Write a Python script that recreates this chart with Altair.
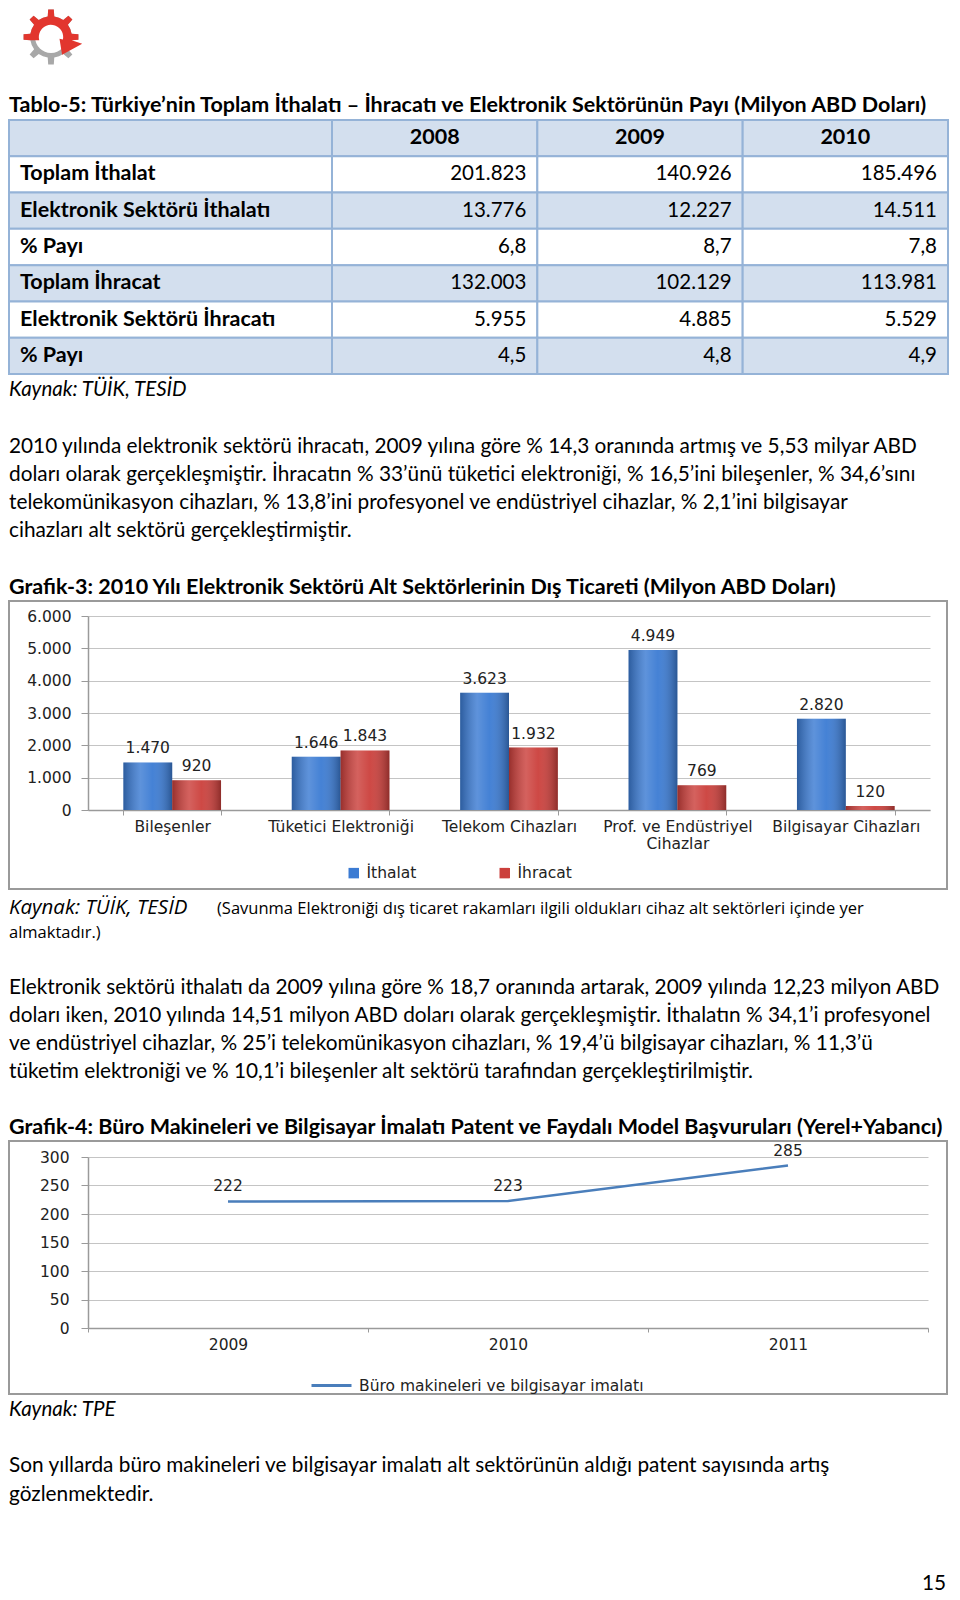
import math
import altair as alt
import pandas as pd

# ---------------- data ----------------
table_title = "Tablo-5: Türkiye’nin Toplam İthalatı – İhracatı ve Elektronik Sektörünün Payı (Milyon ABD Doları)"
table_years = ["2008", "2009", "2010"]
row_labels = ["Toplam İthalat", "Elektronik Sektörü İthalatı", "%  Payı",
              "Toplam İhracat", "Elektronik Sektörü İhracatı", "%  Payı"]
v2008 = ["201.823", "13.776", "6,8", "132.003", "5.955", "4,5"]
v2009 = ["140.926", "12.227", "8,7", "102.129", "4.885", "4,8"]
v2010 = ["185.496", "14.511", "7,8", "113.981", "5.529", "4,9"]
source1 = "Kaynak: TÜİK, TESİD"

para1 = [
    "2010 yılında elektronik sektörü ihracatı, 2009 yılına göre % 14,3 oranında artmış ve 5,53 milyar ABD",
    "doları olarak gerçekleşmiştir. İhracatın % 33’ünü tüketici elektroniği, % 16,5’ini bileşenler, % 34,6’sını",
    "telekomünikasyon cihazları, % 13,8’ini profesyonel ve endüstriyel cihazlar, % 2,1’ini bilgisayar",
    "cihazları alt sektörü gerçekleştirmiştir.",
]
chart3_title = "Grafik-3: 2010 Yılı Elektronik Sektörü Alt Sektörlerinin Dış Ticareti (Milyon ABD Doları)"
sectors = ["Bileşenler", "Tüketici Elektroniği", "Telekom Cihazları",
           "Prof. ve Endüstriyel Cihazlar", "Bilgisayar Cihazları"]
ithalat = [1470, 1646, 3623, 4949, 2820]
ihracat = [920, 1843, 1932, 769, 120]
series3 = ["İthalat", "İhracat"]

source2a = "Kaynak: TÜİK, TESİD"
source2b = "(Savunma Elektroniği dış ticaret rakamları ilgili oldukları cihaz alt sektörleri içinde yer"
source2c = "almaktadır.)"
para2 = [
    "Elektronik sektörü ithalatı da 2009 yılına göre % 18,7 oranında artarak, 2009 yılında 12,23 milyon ABD",
    "doları iken, 2010 yılında 14,51 milyon ABD doları olarak gerçekleşmiştir. İthalatın % 34,1’i profesyonel",
    "ve endüstriyel cihazlar, % 25’i telekomünikasyon cihazları, % 19,4’ü bilgisayar cihazları, % 11,3’ü",
    "tüketim elektroniği ve % 10,1’i bileşenler alt sektörü tarafından gerçekleştirilmiştir.",
]
chart4_title = "Grafik-4: Büro Makineleri ve Bilgisayar İmalatı Patent ve Faydalı Model Başvuruları (Yerel+Yabancı)"
patent_years = ["2009", "2010", "2011"]
patents = [222, 223, 285]
series4 = "Büro makineleri ve bilgisayar imalatı"
source3 = "Kaynak: TPE"
para3 = [
    "Son yıllarda büro makineleri ve bilgisayar imalatı alt sektörünün aldığı patent sayısında artış",
    "gözlenmektedir.",
]
page_no = "15"

# ---------------- styles ----------------
FONT = "Lato"
CFONT = "DejaVu Sans"
BODY = 20.8
TITLE = 21.5
CSIZE = 15.5
BLUE_LIGHT = "#D3DFEE"
BORDER = "#95B3D7"
BAR_BLUE = "#3B7BD3"
BAR_RED = "#CB3F3B"
LINE_BLUE = "#4A7EBB"
GRID = "#C4C4C4"
AXIS = "#9A9A9A"
BOX = "#9A9A9A"

# all panels share the chart-3 plot origin; text columns start left of it
L = -79      # left text edge
R = 860      # right edge of page content
ONE = pd.DataFrame({"k": [0]})


def T(text, x, y, size=BODY, bold=False, italic=False, align="left", baseline="middle", font=FONT):
    return alt.Chart(ONE).mark_text(
        text=text, align=align, baseline=baseline, font=font, fontSize=size,
        fontWeight="bold" if bold else "normal",
        fontStyle="italic" if italic else "normal", color="black",
    ).encode(x=alt.value(x), y=alt.value(y))


def frame(h):
    return alt.Chart(ONE).mark_rect(opacity=0).encode(
        x=alt.value(-80), x2=alt.value(R), y=alt.value(0), y2=alt.value(h))


def box(y0, y1):
    return alt.Chart(ONE).mark_rect(filled=False, stroke=BOX, strokeWidth=2).encode(
        x=alt.value(-79), x2=alt.value(R - 1), y=alt.value(y0), y2=alt.value(y1))


# ---------------- logo (decoration) ----------------
def gear_pts(r_out, r_in, n, a_lo, a_hi):
    pts = []
    d = 2 * math.pi / n
    for i in range(-n, 2 * n):
        c = d * i
        for off, r in [(-0.5, r_in), (-0.2, r_in), (-0.13, r_out), (0.13, r_out), (0.2, r_in)]:
            a = c + off * d
            if a_lo <= a <= a_hi:
                pts.append((r * math.cos(a), r * math.sin(a)))
    return pts


def to_path(pts):
    return "M" + " L".join(f"{x:.3f},{y:.3f}" for x, y in pts) + " Z"


gray_path = to_path(gear_pts(0.95, 0.72, 8, 0, 2 * math.pi - 1e-6))
a0, a1 = math.radians(165), math.radians(372)
red_pts = gear_pts(0.95, 0.72, 8, a0, a1)
red_pts.append((1.1 * math.cos(a1), 1.1 * math.sin(a1)))
ta = math.radians(418)
red_pts.append((0.72 * math.cos(ta), 0.72 * math.sin(ta)))
red_pts.append((0.3 * math.cos(a1), 0.3 * math.sin(a1)))
for k in range(21):
    a = a1 - (a1 - a0) * k / 20
    red_pts.append((0.42 * math.cos(a), 0.42 * math.sin(a)))
red_path = to_path(red_pts)

LX, LY, LS = -37, 29, 58
logo = alt.layer(
    alt.Chart(ONE).mark_point(shape=gray_path, filled=True, fill="#A8A8A8", strokeWidth=0,
                              size=LS * LS, opacity=1).encode(x=alt.value(LX), y=alt.value(LY)),
    alt.Chart(ONE).mark_point(shape="circle", filled=True, fill="white", strokeWidth=0,
                              size=(0.55 * LS) ** 2, opacity=1).encode(x=alt.value(LX), y=alt.value(LY)),
    alt.Chart(ONE).mark_point(shape=red_path, filled=True, fill="#E2362E", strokeWidth=0,
                              size=LS * LS, opacity=1).encode(x=alt.value(LX), y=alt.value(LY)),
)

# ---------------- table ----------------
row_ids = list(range(7))
COL1 = 244
Y_ROW = alt.Y("row:O", scale=alt.Scale(domain=row_ids, range=[112, 366], paddingInner=0, paddingOuter=0),
              axis=None)
X_SCALE = alt.Scale(domain=table_years, range=[COL1, R], paddingInner=0, paddingOuter=0)
SHADE = alt.Scale(domain=["a", "b"], range=[BLUE_LIGHT, "white"])

tbl_rows = pd.DataFrame({"row": row_ids, "label": [""] + row_labels})
tbl_all = pd.DataFrame([{"row": r, "year": y} for r in row_ids for y in table_years])
tbl_cells = pd.DataFrame([{"row": i + 1, "year": y, "val": v}
                          for y, col in zip(table_years, [v2008, v2009, v2010])
                          for i, v in enumerate(col)])
tbl_head = pd.DataFrame({"row": [0] * 3, "year": table_years})

shade_calc = "datum.row % 2 == 0 ? 'a' : 'b'"
tbl_label_rects = alt.Chart(tbl_rows).transform_calculate(shade=shade_calc).mark_rect(
    stroke=BORDER, strokeWidth=2).encode(
    x=alt.value(L), x2=alt.value(COL1), y=Y_ROW, fill=alt.Fill("shade:N", scale=SHADE, legend=None))
tbl_val_rects = alt.Chart(tbl_all).transform_calculate(shade=shade_calc).mark_rect(
    stroke=BORDER, strokeWidth=2).encode(
    x=alt.X("year:N", scale=X_SCALE, axis=None), y=Y_ROW,
    fill=alt.Fill("shade:N", scale=SHADE, legend=None))
tbl_label_text = alt.Chart(tbl_rows).mark_text(
    align="left", baseline="middle", font=FONT, fontSize=21.5, fontWeight="bold", color="black").encode(
    x=alt.value(L + 11), y=Y_ROW, text="label:N")
tbl_val_text = alt.Chart(tbl_cells).mark_text(
    align="right", baseline="middle", dx=-11, font=FONT, fontSize=20.5, color="black").encode(
    x=alt.X("year:N", scale=X_SCALE, bandPosition=1, axis=None), y=Y_ROW, text="val:N")
tbl_head_text = alt.Chart(tbl_head).mark_text(
    align="center", baseline="middle", font=FONT, fontSize=21.5, fontWeight="bold", color="black").encode(
    x=alt.X("year:N", scale=X_SCALE, axis=None), y=Y_ROW, text="year:N")

panelA_layers = [frame(592), logo,
                 T(table_title, L, 98, size=TITLE, bold=True),
                 tbl_label_rects, tbl_val_rects, tbl_label_text, tbl_val_text, tbl_head_text,
                 T(source1, L, 382, size=20.5, italic=True)]
for i, line in enumerate(para1):
    panelA_layers.append(T(line, L, 439 + 28 * i))
panelA_layers.append(T(chart3_title, L, 580, size=TITLE, bold=True))
panelA = alt.layer(*panelA_layers).properties(width=842, height=592)

# ---------------- chart 3 ----------------
df3 = pd.DataFrame(
    [{"cat": c, "seri": series3[0], "val": v} for c, v in zip(sectors, ithalat)] +
    [{"cat": c, "seri": series3[1], "val": v} for c, v in zip(sectors, ihracat)])

fmt_dot = "replace(format(datum.value, ','), ',', '.')"
base3 = alt.Chart(df3).transform_calculate(
    lab="replace(format(datum.val, ','), ',', '.')").encode(
    x=alt.X("cat:N", sort=sectors, title=None,
            scale=alt.Scale(paddingInner=0.42, paddingOuter=0.21),
            axis=alt.Axis(labelAngle=0, tickBand="extent", ticks=True, tickSize=5, tickColor=AXIS,
                          domainColor=AXIS, domainWidth=1.5, labelFont=CFONT, labelFontSize=CSIZE,
                          labelColor="#222", labelPadding=4, labelBaseline="top",
                          labelExpr="datum.label == 'Prof. ve Endüstriyel Cihazlar' ? "
                                    "['Prof. ve Endüstriyel', 'Cihazlar'] : datum.label",
                          labelLineHeight=17, labelLimit=300, grid=False)),
    xOffset=alt.XOffset("seri:N", sort=series3, scale=alt.Scale(paddingInner=0, paddingOuter=0)),
    y=alt.Y("val:Q", title=None, scale=alt.Scale(domain=[0, 6000]),
            axis=alt.Axis(values=list(range(0, 6001, 1000)), labelExpr=fmt_dot, grid=True,
                          gridColor=GRID, gridWidth=1, domainColor=AXIS, domainWidth=1.5,
                          tickColor=AXIS, tickSize=7, labelPadding=10, labelFont=CFONT,
                          labelFontSize=CSIZE, labelColor="#222")),
)
bars3 = base3.mark_bar().encode(
    color=alt.Color("seri:N", sort=series3,
                    scale=alt.Scale(domain=series3, range=[BAR_BLUE, BAR_RED]),
                    legend=alt.Legend(title=None, orient="none", legendX=258, legendY=249,
                                      direction="horizontal", symbolType="square", symbolSize=110,
                                      symbolStrokeWidth=0, labelFont=CFONT, labelFontSize=CSIZE,
                                      labelColor="#222", columnPadding=80, labelOffset=5)))
shine = alt.Gradient(gradient="linear", x1=0, x2=1, y1=0, y2=0, stops=[
    alt.GradientStop(color="rgba(0,0,0,0.25)", offset=0),
    alt.GradientStop(color="rgba(255,255,255,0.18)", offset=0.35),
    alt.GradientStop(color="rgba(255,255,255,0.05)", offset=0.6),
    alt.GradientStop(color="rgba(0,0,0,0.3)", offset=1)])
shade3 = base3.mark_bar(fill=shine)
labels3 = base3.mark_text(dy=-14, baseline="middle", font=CFONT, fontSize=CSIZE, color="#222").encode(
    text="lab:N")
panelB = alt.layer(box(-15, 273), bars3, shade3, labels3).properties(width=842, height=194)

# ---------------- text panel C ----------------
panelC_layers = [frame(250), T(source2a, L, 18, size=20.5, italic=True, font="Open Sans"),
                 T(source2b, L + 208, 19, size=16.5, font="Open Sans"),
                 T(source2c, L, 43, size=16.5, font="Open Sans")]
for i, line in enumerate(para2):
    panelC_layers.append(T(line, L, 98 + 28 * i))
panelC_layers.append(T(chart4_title, L, 238, size=TITLE, bold=True))
panelC = alt.layer(*panelC_layers).properties(width=842, height=250)

# ---------------- chart 4 ----------------
df4 = pd.DataFrame({"year": patent_years, "val": patents, "seri": [series4] * 3})
base4 = alt.Chart(df4).encode(
    x=alt.X("year:N", title=None, bandPosition=0.5,
            scale=alt.Scale(type="band", paddingInner=0, paddingOuter=0),
            axis=alt.Axis(labelAngle=0, tickBand="extent", tickSize=4, tickColor=AXIS,
                          domainColor=AXIS, domainWidth=1.5, labelFont=CFONT, labelFontSize=CSIZE,
                          labelColor="#222", labelPadding=5, labelBaseline="top", grid=False)),
    y=alt.Y("val:Q", title=None, scale=alt.Scale(domain=[0, 300]),
            axis=alt.Axis(values=list(range(0, 301, 50)), grid=True, gridColor=GRID, gridWidth=1,
                          domainColor=AXIS, domainWidth=1.5, tickColor=AXIS, tickSize=7,
                          labelPadding=12, labelFont=CFONT, labelFontSize=CSIZE, labelColor="#222")),
)
line4 = base4.mark_line(strokeWidth=2.5).encode(
    color=alt.Color("seri:N", scale=alt.Scale(domain=[series4], range=[LINE_BLUE]),
                    legend=alt.Legend(title=None, orient="none", legendX=222, legendY=207,
                                      symbolType="stroke", symbolSize=1600, symbolStrokeWidth=3,
                                      labelFont=CFONT, labelFontSize=CSIZE, labelColor="#222",
                                      labelOffset=6, labelLimit=500)))
labels4 = base4.mark_text(dy=-15, baseline="middle", font=CFONT, fontSize=CSIZE, color="#222").encode(
    text="val:Q")
panelD = alt.layer(box(-16, 237), line4, labels4).properties(width=840, height=171)

# ---------------- text panel E ----------------
panelE_layers = [frame(197), T(source3, L, 15, size=20.5, italic=True)]
for i, line in enumerate(para3):
    panelE_layers.append(T(line, L, 71 + 29 * i))
panelE_layers.append(T(page_no, R - 2, 195, align="right", baseline="alphabetic"))
panelE = alt.layer(*panelE_layers).properties(width=842, height=197)

chart = alt.vconcat(panelA, panelB, panelC, panelD, panelE, spacing=0).resolve_scale(
    color="independent", x="independent", y="independent", xOffset="independent", fill="independent"
).properties(padding=0, background="white").configure_view(stroke=None)

chart.save("out.html", embed_options={"renderer": "svg", "actions": False})
